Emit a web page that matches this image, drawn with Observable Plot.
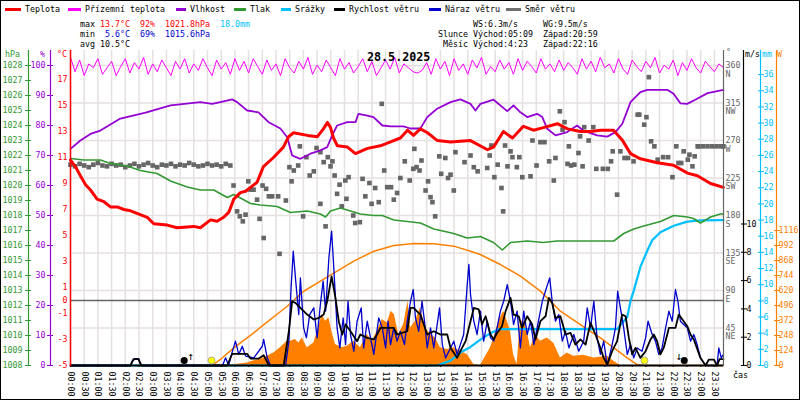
<!DOCTYPE html>
<html><head><meta charset="utf-8">
<script src="https://cdn.jsdelivr.net/npm/d3@7"></script>
<script src="https://cdn.jsdelivr.net/npm/@observablehq/plot@0.6"></script>
<style>
body{margin:0;background:#fff;}
#wrap{position:relative;width:800px;height:400px;overflow:hidden;background:#fff;font-family:"DejaVu Sans Mono",monospace;font-size:8.3px;color:#000;}
#chart{position:absolute;left:0;top:0;}
.t{position:absolute;white-space:pre;line-height:10px;}
.sw{position:absolute;height:3px;}
#border{position:absolute;left:0;top:0;width:800px;height:400px;box-sizing:border-box;border:1px solid #000;pointer-events:none;}
.r{color:#f00}.b{color:#0000cc}.c{color:#00bfff}
</style></head><body>
<div id="wrap"><div id="chart"></div></div>
<script>
// ---------- DATA ----------
const tempH = [0,0.18,0.36,0.55,0.73,0.97,1.22,1.46,1.70,1.95,2.19,2.43,2.80,3.04,3.53,3.89,4.50,4.74,5.11,5.35,5.59,5.78,5.96,6.20,6.39,6.57,6.81,7.04,7.41,7.77,7.96,8.14,8.65,9.01,9.23,9.38,9.49,9.60,9.74,10.11,10.40,10.84,11.31,11.68,12.04,12.30,12.52,12.77,13.03,13.39,13.87,14.60,15.22,15.44,15.80,16.13,16.53,16.90,17.26,17.77,18.14,18.61,18.98,19.34,19.82,20.15,20.44,20.80,21.42,22.01,22.52,22.88,23.36,23.83];
const tempC = [10.8,10.3,9.6,8.9,8.5,7.8,7.6,7.2,7.2,7.0,6.9,6.7,6.4,5.9,5.8,5.6,5.7,5.6,6.2,6.1,6.4,6.8,7.8,8.3,8.4,8.7,9.1,10.3,11.0,11.8,12.6,12.9,12.7,12.6,13.2,13.7,13.3,12.5,11.9,11.8,11.3,11.7,11.9,12.2,12.5,13.1,12.7,13.2,12.9,12.3,12.2,12.3,11.6,11.8,13.0,12.5,13.4,13.1,13.3,13.6,13.2,13.0,13.0,13.1,13.1,12.3,11.3,10.9,10.6,10.4,9.8,9.6,9.0,8.7];

const humH = [0,0.36,0.73,1.09,1.82,2.74,3.65,4.74,5.17,5.47,5.90,6.08,6.45,6.86,7.23,7.66,7.91,8.09,8.39,8.76,9.12,9.37,9.55,9.73,10.10,10.40,10.51,10.83,11.06,11.38,11.68,12.15,12.41,12.77,13.02,13.38,13.87,14.23,14.60,14.78,14.96,15.44,15.94,16.17,16.42,16.67,17.03,17.22,17.40,17.70,18.13,18.49,18.72,19.22,19.59,19.89,20.14,20.44,20.80,21.05,21.78,22.01,22.26,22.51,22.87,23.25,23.83];
const humPct = [72.2,75,77.2,78.3,82.3,84.3,86.7,87.8,87.2,87.8,88.7,87.8,85,84.4,81.1,79,76.1,70,68.9,70.6,71.7,72.8,76.7,80,81.1,81.1,83.9,83.3,82.8,80,79.7,79.7,79,79,82.8,85.6,87.8,88.7,87.2,85,87.2,88.6,84.8,86.7,84.4,82.8,83.9,82.8,78.9,76.7,77.8,80,78.3,76.7,76.3,77.8,80.6,87.8,91.1,91.9,91.9,90.6,87.4,87.2,88.9,90.8,91.9];

const presH = [0,0.49,1.09,1.40,2.07,2.55,3.16,3.65,4.26,4.74,5.23,5.72,5.96,6.27,6.57,6.93,7.54,8.03,8.64,9.12,9.31,9.49,9.85,10.22,10.58,11.06,11.38,11.80,12.29,12.77,13.26,13.75,13.98,14.48,14.96,15.44,15.76,16.06,16.67,17.26,17.76,18.37,19.34,19.83,20.19,20.56,20.92,21.53,22.02,22.51,22.74,22.99,23.36,23.72,23.83];
const presHpa = [1021.8,1021.7,1021.7,1021.5,1021.3,1021.0,1020.8,1020.3,1019.9,1019.7,1019.7,1019.2,1019.4,1019.1,1018.8,1018.7,1018.6,1018.2,1018.3,1018.1,1017.9,1018.3,1018.5,1018.3,1018.1,1018.0,1018.0,1017.7,1017.6,1017.5,1017.1,1016.9,1016.8,1016.5,1016.6,1016.2,1015.7,1016.2,1016.3,1016.2,1016.3,1016.3,1016.3,1016.3,1016.8,1017.1,1017.3,1017.6,1018.0,1017.9,1017.8,1017.5,1017.9,1018.1,1018.1];

const rainH = [0,13.38,13.87,14.23,14.60,14.96,15.33,15.63,19.95,20.32,20.44,20.56,20.80,21.05,21.23,21.53,22.02,22.51,23.0,23.83];
const rainMm = [0,0,0.6,1.6,2.3,3.2,4.0,4.5,4.5,6.0,8.0,9.3,12.2,14.2,15.5,16.5,17.3,17.8,17.95,18.0];

const sunCurveH = [5.17,5.47,5.96,6.69,6.93,7.91,8.51,9.12,10.34,11.07,11.80,12.53,13.26,13.99,14.60,14.96,15.69,16.42,17.15,17.88,18.61,19.34,19.83,20.32,20.68,20.98,23.83];
const sunCurveW = [0,50,146,270,316,490,614,697,863,945,992,1009,1006,987,945,918,835,739,615,449,339,228,146,63,8,0,0];

const radH = [0,5.72,6.45,7.05,7.42,7.66,7.91,8.03,8.21,8.33,8.46,8.64,8.88,9.06,9.18,9.31,9.43,9.55,9.67,9.92,10.10,10.34,10.58,10.83,11.01,11.19,11.38,11.56,11.70,11.82,11.98,12.16,12.32,12.41,12.59,12.77,12.96,13.14,13.32,13.50,13.75,13.99,14.23,14.48,14.72,14.96,15.33,15.45,15.63,15.81,15.94,16.06,16.17,16.30,16.42,16.54,16.67,16.79,16.97,17.15,17.40,17.64,17.88,18.13,18.37,18.73,19.10,19.59,19.83,20.07,23.83];
const radW = [0,0,21,63,104,146,201,201,215,187,228,146,187,311,422,366,394,270,174,146,160,201,146,256,201,284,380,352,449,422,256,339,532,311,366,476,311,256,228,146,132,146,118,91,8,0,146,228,366,449,366,284,91,8,366,366,284,146,256,201,228,184,63,104,77,85,63,77,36,0,0];

const windH = [0,2.19,2.30,2.48,2.59,5.72,5.90,6.45,6.57,6.87,7.05,7.24,7.78,7.97,8.09,8.21,8.39,8.64,8.88,9.06,9.24,9.37,9.53,9.67,9.79,9.92,10.04,10.22,10.46,10.58,10.83,11.07,11.19,11.31,11.80,11.92,12.11,12.29,12.41,12.52,12.77,13.02,13.26,13.50,13.75,13.87,14.11,14.23,14.42,14.60,14.72,14.90,15.02,15.15,15.33,15.45,15.57,15.75,15.88,16.06,16.17,16.36,16.48,16.67,16.85,16.97,17.15,17.34,17.46,17.58,17.70,17.88,18.07,18.25,18.43,18.61,18.80,18.98,19.16,19.34,19.46,19.59,19.77,19.95,20.13,20.26,20.38,20.50,20.62,20.80,20.99,21.17,21.29,21.41,21.53,21.65,21.78,21.84,22.08,22.20,22.38,22.51,22.63,22.75,22.99,23.18,23.30,23.48,23.60,23.69,23.83];
const windMs = [0,0,0.45,0.45,0,0,0.82,0.82,0.49,0.49,0.73,0,0,2.42,4.54,4.42,4.07,3.6,3.25,3.36,3.6,4.54,6.3,4.78,3.13,2.19,2.9,2.42,1.72,2.19,1.95,1.84,2.19,2.66,2.66,2.19,2.3,2.42,4.07,4.07,3.6,2.19,2.42,2.19,2.19,1.24,0.54,1.01,1.72,3.13,4.07,3.96,2.9,3.48,2.19,1.84,2.3,2.78,3.84,4.78,3.6,3.48,2.66,3.48,2.9,1.84,3.13,3.48,4.78,4.42,3.36,3.48,2.19,2.3,1.48,1.84,1.48,3.01,2.19,1.24,0.54,0.07,1.01,1.72,3.6,3.48,1.95,0.78,1.24,0.54,1.01,1.84,2.19,1.72,0.78,1.24,2.19,2.66,2.66,3.6,3.13,2.78,2.19,1.84,0.54,0,0.42,0.42,0,0.45,0.45];

const gustH = [0,2.19,2.25,2.37,2.49,2.55,2.59,5.55,5.66,5.77,5.84,6.02,6.14,6.27,6.39,6.69,7.0,7.05,7.18,7.30,7.85,7.97,8.05,8.13,8.21,8.33,8.39,8.51,8.61,8.73,8.88,9.0,9.12,9.22,9.31,9.43,9.53,9.61,9.67,9.73,9.83,9.95,10.04,10.13,10.22,10.34,10.46,10.61,10.70,10.83,10.95,11.07,11.25,11.38,11.50,11.59,11.68,11.80,11.92,12.04,12.19,12.29,12.41,12.51,12.59,12.71,12.83,12.92,13.02,13.14,13.26,13.47,13.57,13.69,13.87,13.99,14.11,14.23,14.35,14.48,14.54,14.60,14.72,14.84,14.96,15.08,15.21,15.33,15.45,15.57,15.69,15.81,15.94,16.06,16.17,16.30,16.42,16.54,16.67,16.79,16.91,17.03,17.22,17.37,17.49,17.58,17.70,17.82,17.95,18.07,18.19,18.37,18.55,18.73,18.86,18.98,19.10,19.22,19.34,19.46,19.59,19.77,19.89,19.97,20.07,20.19,20.32,20.44,20.56,20.68,20.86,20.99,21.08,21.23,21.35,21.47,21.59,21.72,21.84,21.96,22.08,22.17,22.26,22.38,22.51,22.63,22.75,22.87,22.99,23.18,23.60,23.66,23.75,23.83];
const gustMs = [0,0,0.3,0.49,0.49,0.07,0,0,0.54,0,0.54,1.72,0.78,1.36,0.66,0.54,1.36,1.84,0.54,0,0,1.72,5.48,8.08,6.19,3.6,6.19,2.66,1.95,3.6,4.07,1.95,4.31,5.96,3.84,7.6,9.5,6.9,4.78,2.66,1.24,3.36,1.48,4.54,2.19,1.01,3.13,4.07,1.24,3.13,1.95,0.78,3.36,2.66,1.24,3.13,1.48,2.66,1.72,2.42,1.48,3.13,4.54,5.37,3.36,2.42,4.54,3.13,1.24,2.66,1.24,4.07,1.48,0.54,1.24,1.72,0.78,1.48,2.19,5.72,7.14,5.02,3.13,2.19,3.84,1.72,3.13,1.95,1.72,2.66,3.84,4.54,5.72,4.54,2.9,3.84,1.24,3.84,2.19,3.13,1.48,2.66,4.54,5.48,6.19,4.54,3.13,3.6,1.72,2.42,1.24,2.19,1.01,1.72,4.07,2.66,4.54,1.95,0.78,1.72,0,1.48,2.66,5.25,4.07,2.66,0.78,1.48,0.54,1.24,1.01,1.95,3.13,2.19,1.72,0.78,1.24,2.66,3.84,3.13,5.37,4.54,3.13,2.9,2.66,1.72,2.19,1.48,0.54,0,0,1.24,0.54,0.78];

// wind direction: steady early band (10-min samples), scattered, steady late band
const dirBandEarly = [241,239,242,240,238,241,243,240,239,242,240,241,238,240,242,239,241,243,240,238,241,240,242,239,241,240,243,241,239,240,242,240,241,239,242,240];
const dirH = [5.95,6.08,6.18,6.29,6.39,6.49,6.57,6.68,6.81,6.90,7.01,7.05,7.14,7.24,7.36,7.58,7.63,7.86,7.99,8.07,8.15,8.31,8.37,8.49,8.61,8.73,8.88,8.98,9.12,9.12,9.24,9.31,9.39,9.49,9.56,9.64,9.73,9.82,9.90,10.03,10.07,10.15,10.32,10.39,10.56,10.66,10.76,10.91,10.99,11.12,11.25,11.36,11.45,11.56,11.70,11.80,11.92,12.04,12.20,12.38,12.51,12.55,12.63,12.74,12.81,12.96,13.05,13.14,13.21,13.31,13.46,13.53,13.68,13.78,13.87,13.99,14.05,14.38,14.60,14.72,14.86,15.21,15.30,15.36,15.47,15.59,15.73,15.79,15.86,15.95,16.06,16.13,16.29,16.38,16.49,16.79,16.86,17.01,17.15,17.30,17.47,17.64,17.70,17.86,17.96,18.03,18.14,18.19,18.27,18.39,18.54,18.60,18.69,18.75,18.91,19.08,19.19,19.43,19.61,19.73,19.79,19.95,20.07,20.22,20.35,20.55,20.70,20.76,20.94,21.02,21.11,21.19,21.31,21.43,21.63,21.81,21.97,22.11,22.19,22.29,22.38,22.53,22.59,22.70,22.78,22.89];
const dirDeg = [216,185,179,173,181,221,211,211,199,176,216,153,212,203,203,203,134,198,238,221,234,240,263,179,250,228,233,261,256,194,244,167,250,239,245,228,206,217,191,222,200,226,180,171,172,224,203,219,194,213,196,314,234,214,214,199,207,225,245,222,236,260,238,234,246,210,221,202,196,179,251,230,249,225,229,210,256,244,252,238,233,237,252,264,226,241,213,185,264,239,257,250,238,250,226,227,270,240,268,268,245,222,249,305,283,292,242,263,240,241,255,275,239,286,270,286,236,236,236,245,257,205,257,249,249,245,301,301,289,298,346,269,263,247,250,250,226,263,243,243,257,247,253,239,251,263];
const dirLateH = [22.92,23.08,23.25,23.42,23.58,23.75,23.83];
const dirLateDeg = [263,263,263,263,263,263,263];

// ground temperature, 10-min samples
const groundC = [
 18.7,17.6,18.5,17.3,18.2,17.9,18.6,17.4,17.9,18.4,17.3,18.0,
 18.6,17.5,18.3,17.8,18.7,17.4,18.2,17.6,18.5,17.9,17.3,18.4,
 17.8,18.6,17.5,18.2,17.7,18.6,17.9,17.3,18.5,17.8,18.3,17.4,
 18.6,17.7,18.4,17.5,18.6,18.0,17.4,18.5,17.7,18.2,17.3,18.6,
 17.9,17.5,18.4,17.8,18.7,17.4,18.1,17.6,18.5,17.9,17.3,18.6,
 17.8,18.3,17.5,18.0,18.6,17.6,18.4,17.3,17.9,18.5,17.8,18.7,
 17.5,18.2,17.9,17.6,17.5,17.7,18.3,17.4,18.6,17.8,18.4,17.3,
 18.6,17.7,18.2,17.4,18.5,17.9,18.7,17.4,18.0,17.6,18.5,17.8,
 18.3,17.4,18.6,17.7,18.4,18.0,17.5,18.6,17.8,18.2,17.6,18.5,
 17.7,18.3,17.9,17.4,18.6,17.8,18.4,17.6,18.7,17.9,18.2,17.5,
 18.6,17.8,17.4,18.5,18.0,17.6,18.4,17.9,18.7,17.5,18.1,17.8,
 18.5,17.3,18.3,17.7,18.6,17.9,17.5,18.4,18.0,17.6,18.2,17.9];

// sun / moon events (hours)
const moonDotH = [4.15, 22.4];
const sunDotH = [5.15, 20.95];
const moonMarkH = [4.38, 22.2];
const moonMarkSym = ["↑", "↓"];

// axis ticks
const tempTicks = [-5,-3,-1,0,1,3,5,7,9,11,13,15,17];
const humTicks = d3.range(0, 101, 10);
const presTicks = d3.range(1008, 1029, 1);
const dirTicks = [45,90,135,180,225,270,315,360];
const dirNames = {45:"NE",90:"E",135:"SE",180:"S",225:"SW",270:"W",315:"NW",360:"N"};
const windTicks = [0,2,4,6,8,10];
const rainTicks = d3.range(0, 37, 2);
const radTicks = d3.range(0, 1117, 124);
const halfHours = d3.range(0, 24, 0.5);

// ---------- common vertical unit (px above baseline) ----------
const uT = t => (t + 5) * 13;
const uP = p => p * 3;
const uH = h => (h - 1008) * 15;
const uD = d => d * 300 / 360;
const uV = v => v * 14.15;
const uM = m => m * 8.08;
const uR = w => w / 8.27;

const zip = (a, b) => a.map((h, i) => ({h, v: b[i]})).filter(d => d.v !== undefined);
const temp = zip(tempH, tempC);
const hum = zip(humH, humPct);
const pres = zip(presH, presHpa);
const rain = zip(rainH, rainMm);
const sunCurve = zip(sunCurveH, sunCurveW);
const rad = zip(radH, radW);
const wind = zip(windH, windMs);
const gust = zip(gustH, gustMs);
const dirs = [
  ...dirBandEarly.map((v, i) => ({h: i / 6, v})),
  ...zip(dirH, dirDeg),
  ...zip(dirLateH, dirLateDeg)
];
const ground = groundC.map((v, i) => ({h: i / 6, v}));
const moonMarks = moonMarkH.map((h, i) => ({h, s: moonMarkSym[i]}));

const COL = {temp:"#ff0000", ground:"#ff00ff", hum:"#9400d3", pres:"#339933", rain:"#00bfff", wind:"#000000", gust:"#0000cc", dir:"#666666", rad:"#ff8000"};
const GRID = "#e6e0e0";

function sideAxis(anchor, ticks, fmt, dx, color, pad, crossing = true) {
  const m = [Plot.frame({anchor, dx, stroke: color, strokeWidth: 1.2})];
  if (crossing) m.push(Plot.axisY({anchor, ticks, dx: anchor === "left" ? dx + 3 : dx - 3, tickSize: 6, tickFormat: () => "", color, label: null}));
  m.push(Plot.axisY({anchor, ticks, dx, tickSize: 0, tickPadding: pad, tickFormat: fmt, color, label: null}));
  return m;
}
const hhmm = h => `${String(Math.floor(h)).padStart(2, "0")}:${h % 1 ? "30" : "00"}`;

const chart = Plot.plot({
  width: 800, height: 400,
  marginLeft: 70, marginRight: 77, marginTop: 50, marginBottom: 35,
  style: {fontFamily: "DejaVu Sans Mono, monospace", fontSize: "8.3px", background: "transparent", overflow: "visible"},
  x: {domain: [0, 23.833]},
  y: {domain: [0, 315]},
  marks: [
    Plot.gridX({ticks: halfHours, stroke: GRID, strokeOpacity: 1, strokeWidth: 1.5}),
    Plot.gridY({ticks: dirTicks.map(uD), stroke: GRID, strokeOpacity: 1, strokeWidth: 1.5}),
    Plot.areaY(rad, {x: "h", y: d => uR(d.v), fill: COL.rad}),
    Plot.line(sunCurve, {x: "h", y: d => uR(d.v), stroke: COL.rad, strokeWidth: 1.5}),
    Plot.ruleY([uT(0)], {stroke: "#666", strokeWidth: 1.5}),
    Plot.dot(dirs, {x: "h", y: d => uD(d.v), symbol: "square", r: 2.6, fill: COL.dir}),
    Plot.line(rain, {x: "h", y: d => uM(d.v), stroke: COL.rain, strokeWidth: 2.2}),
    Plot.line(pres, {x: "h", y: d => uH(d.v), stroke: COL.pres, strokeWidth: 1.6}),
    Plot.line(hum, {x: "h", y: d => uP(d.v), stroke: COL.hum, strokeWidth: 1.8}),
    Plot.line(ground, {x: "h", y: d => uT(d.v), stroke: COL.ground, strokeWidth: 1}),
    Plot.line(temp, {x: "h", y: d => uT(d.v), stroke: COL.temp, strokeWidth: 3}),
    Plot.line(gust, {x: "h", y: d => uV(d.v), stroke: COL.gust, strokeWidth: 1.3}),
    Plot.line(wind, {x: "h", y: d => uV(d.v), stroke: COL.wind, strokeWidth: 1.8}),
    Plot.ruleY([0], {stroke: "#000", strokeWidth: 2}),
    Plot.dotX(moonDotH, {frameAnchor: "bottom", dy: -5, r: 3.5, fill: "#000"}),
    Plot.dotX(sunDotH, {frameAnchor: "bottom", dy: -5, r: 3.5, fill: "#ffff00", stroke: "#999", strokeWidth: 0.8}),
    Plot.text(moonMarks, {x: "h", text: "s", frameAnchor: "bottom", dy: -6, fontSize: 11, fill: "#000"}),
    // x axis
    Plot.axisX({ticks: halfHours, tickFormat: hhmm, tickRotate: 90, tickSize: 2, tickPadding: 4, label: null}),
    // left axes
    Plot.frame({anchor: "left", stroke: COL.temp, strokeWidth: 1.5}),
    Plot.axisY({anchor: "left", ticks: tempTicks.map(uT), tickFormat: u => String(Math.round(u / 13 - 5)), tickSize: 0, tickPadding: 3, color: COL.temp, label: null}),
    ...sideAxis("left", humTicks.map(uP), u => String(Math.round(u / 3)), -20, COL.hum, 5),
    ...sideAxis("left", presTicks.map(uH), u => String(Math.round(u / 15 + 1008)), -42, COL.pres, 6),
    // right axes
    Plot.frame({anchor: "right", stroke: "#666", strokeWidth: 1.2}),
    Plot.axisY({anchor: "right", ticks: dirTicks.map(uD), tickFormat: u => String(Math.round(u * 360 / 300)), tickSize: 0, tickPadding: 2, color: "#666", label: null}),
    Plot.axisY({anchor: "right", ticks: dirTicks.map(uD), tickFormat: u => dirNames[Math.round(u * 360 / 300)], tickSize: 0, tickPadding: 2, dy: 8.5, color: "#666", label: null}),
    ...sideAxis("right", windTicks.map(uV), u => String(Math.round(u / 14.15)), 20, "#000", 3),
    ...sideAxis("right", rainTicks.map(uM), u => String(Math.round(u / 8.08)), 37, COL.rain, 3),
    ...sideAxis("right", radTicks.map(uR), u => String(Math.round(u * 8.27)), 53, COL.rad, 2)
  ]
});
const wrap = document.getElementById("wrap");
document.getElementById("chart").appendChild(chart);

// ---------- overlays: legend, statistics, title, axis headers ----------
function addText(left, top, html, style = "") {
  const d = document.createElement("div");
  d.className = "t"; d.style.left = left + "px"; d.style.top = top + "px";
  if (style) d.style.cssText += style;
  d.innerHTML = html; wrap.appendChild(d);
}
function addSwatch(left, width, color) {
  const d = document.createElement("div");
  d.className = "sw"; d.style.left = left + "px"; d.style.top = "8px"; d.style.width = width + "px"; d.style.background = color;
  wrap.appendChild(d);
}
const legendItems = [
  ["Teplota", COL.temp, 5, 25], ["Přízemní teplota", COL.ground, 68, 85], ["Vlhkost", COL.hum, 176, 190],
  ["Tlak", COL.pres, 234, 250], ["Srážky", COL.rain, 281, 295], ["Rychlost větru", COL.wind, 334, 349],
  ["Náraz větru", COL.gust, 429, 445], ["Směr větru", "#707070", 506, 525]
];
legendItems.forEach(([name, color, sx, tx]) => { addSwatch(sx, tx - sx - 4, color); addText(tx, 4, name); });

addText(80, 19, 'max <span class="r">13.7°C</span>  <span class="r">92%</span>  <span class="r">1021.8hPa</span>  <span class="c">18.0mm</span>');
addText(80, 29, 'min  <span class="b">5.6°C</span>  <span class="b">69%</span>  <span class="b">1015.6hPa</span>');
addText(80, 39, 'avg 10.5°C');
addText(438, 19, '       WS:6.3m/s     WG:9.5m/s');
addText(438, 29, 'Slunce Východ:05:09  Západ:20:59');
addText(438, 39, ' Měsíc Východ:4:23   Západ:22:16');

addText(367, 51, '28.5.2025', 'font-size:11.7px;font-weight:bold;line-height:12px;');

addText(5, 49, 'hPa', 'color:' + COL.pres);
addText(40, 49, '%', 'color:' + COL.hum);
addText(57, 49, '°C', 'color:' + COL.temp);
addText(726, 47, '°', 'color:#666');
addText(745, 49, 'm/s');
addText(762, 49, 'mm', 'color:' + COL.rain);
addText(777, 49, 'W', 'color:' + COL.rad);
addText(733, 370, 'čas');

const b = document.createElement("div"); b.id = "border"; wrap.appendChild(b);
</script>
</body></html>
